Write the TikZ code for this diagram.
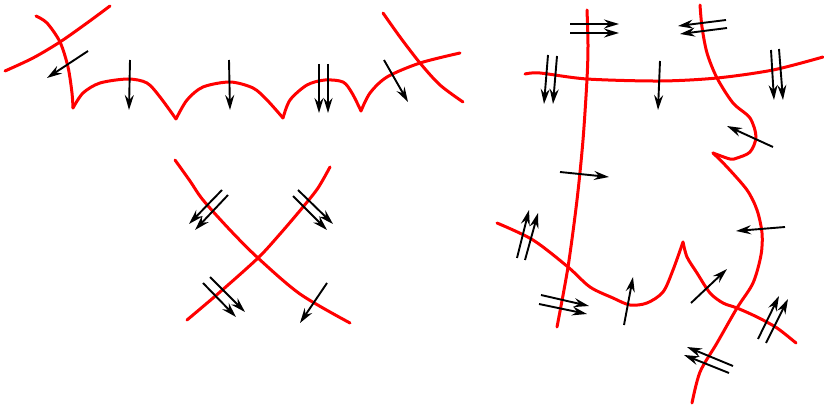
\documentclass[tikz,border=0pt]{standalone}
\usetikzlibrary{arrows.meta}
\begin{document}
\begin{tikzpicture}[x=1pt,y=-1pt,
  wall/.style={red,line width=3pt,line cap=round,line join=round},
  flow/.style={black,line width=1.9pt,-{Stealth[length=15pt,width=9pt,inset=5pt]}}]
\useasboundingbox (0,0) rectangle (824,409);
% ---------- left top ----------
\draw[wall] plot[smooth] coordinates {(36,16) (47,23) (60,42) (68,67) (72,93) (73,108)};
\draw[wall] plot[smooth] coordinates {(5,71) (33,58) (60,42) (87,23) (110,6)};
\draw[wall] plot[smooth] coordinates {(73,108) (83,93) (100,83) (128,79) (147,83) (160,97) (176,119)};
\draw[wall] plot[smooth] coordinates {(176,119) (187,100) (203,87) (230,82) (253,88) (267,100) (283,118)};
\draw[wall] plot[smooth] coordinates {(283,118) (290,100) (307,85) (325,80) (343,82) (352,93) (361,111)};
\draw[wall] plot[smooth] coordinates {(361,111) (370,93) (387,77) (420,63) (460,53)};
\draw[wall] plot[smooth] coordinates {(383,13) (400,37) (420,63) (440,85) (463,102)};
\coordinate (a1s) at (88,51);  \coordinate (a1e) at (47,78);
\coordinate (a2s) at (130,60); \coordinate (a2e) at (129,110);
\coordinate (a3s) at (229,60); \coordinate (a3e) at (230,110);
\coordinate (a4s) at (319,64); \coordinate (a4e) at (319,113);
\coordinate (a5s) at (328,64); \coordinate (a5e) at (328,113);
\coordinate (a6s) at (384,60); \coordinate (a6e) at (408,102);
\foreach \i in {1,...,6} {\draw[flow] (a\i s) -- (a\i e);}
% ---------- left bottom X ----------
\draw[wall] plot[smooth] coordinates {(175,160) (190,181) (203,200) (230,230) (258,258) (300,294) (350,323)};
\draw[wall] plot[smooth] coordinates {(330,167) (318,188) (303,207) (280,234) (258,258) (220,292) (187,320)};
\coordinate (b1s) at (222,190); \coordinate (b1e) at (189,224);
\coordinate (b2s) at (228,195); \coordinate (b2e) at (195,230);
\coordinate (b3s) at (293,196); \coordinate (b3e) at (327,230);
\coordinate (b4s) at (298,190); \coordinate (b4e) at (333,224);
\coordinate (b5s) at (203,283); \coordinate (b5e) at (236,317);
\coordinate (b6s) at (210,277); \coordinate (b6e) at (245,312);
\coordinate (b7s) at (327,283); \coordinate (b7e) at (300,323);
\foreach \i in {1,...,7} {\draw[flow] (b\i s) -- (b\i e);}
% ---------- right ----------
\draw[wall] plot[smooth] coordinates {(587,10) (588,45) (587,79) (583,140) (577,200) (568,267) (557,327)};
\draw[wall] plot[smooth] coordinates {(525,74) (540,73) (587,79) (660,81) (717,78) (773,70) (823,57)};
\draw[wall] plot[smooth] coordinates {(700,5) (702,27) (707,53) (717,78) (733,103) (750,118) (756,137) (750,152) (737,158) (730,159) (713,153)};
\draw[wall] plot[smooth] coordinates {(713,153) (727,167) (747,190) (757,210) (762,233) (761,255) (753,283) (737,308) (717,343) (700,372) (692,403)};
\draw[wall] plot[smooth] coordinates {(497,223) (533,240) (568,267) (590,287) (613,298) (630,305) (647,303) (663,292) (673,270) (683,242)};
\draw[wall] plot[smooth] coordinates {(683,242) (687,257) (697,273) (710,293) (723,303) (737,308) (757,317) (777,328) (796,343)};
\coordinate (c1s) at (570,24);  \coordinate (c1e) at (619,24);
\coordinate (c2s) at (570,33);  \coordinate (c2e) at (619,33);
\coordinate (c3s) at (726,20);  \coordinate (c3e) at (678,26);
\coordinate (c4s) at (727,28);  \coordinate (c4e) at (680,34);
\coordinate (c5s) at (548,55);  \coordinate (c5e) at (544,104);
\coordinate (c6s) at (557,56);  \coordinate (c6e) at (553,104);
\coordinate (c7s) at (660,61);  \coordinate (c7e) at (658,110);
\coordinate (c8s) at (771,50);  \coordinate (c8e) at (774,100);
\coordinate (c9s) at (779,49);  \coordinate (c9e) at (783,100);
\coordinate (c10s) at (773,147); \coordinate (c10e) at (727,126);
\coordinate (c11s) at (560,172); \coordinate (c11e) at (609,177);
\coordinate (c12s) at (517,258); \coordinate (c12e) at (529,210);
\coordinate (c13s) at (525,260); \coordinate (c13e) at (538,213);
\coordinate (c14s) at (541,295); \coordinate (c14e) at (589,306);
\coordinate (c15s) at (539,304); \coordinate (c15e) at (587,314);
\coordinate (c16s) at (624,325); \coordinate (c16e) at (633,277);
\coordinate (c17s) at (691,303); \coordinate (c17e) at (727,269);
\coordinate (c18s) at (785,227); \coordinate (c18e) at (736,231);
\coordinate (c19s) at (758,339); \coordinate (c19e) at (779,296);
\coordinate (c20s) at (766,343); \coordinate (c20e) at (788,299);
\coordinate (c21s) at (733,366); \coordinate (c21e) at (687,347);
\coordinate (c22s) at (729,373); \coordinate (c22e) at (684,355);
\foreach \i in {1,...,22} {\draw[flow] (c\i s) -- (c\i e);}
\end{tikzpicture}
\end{document}
